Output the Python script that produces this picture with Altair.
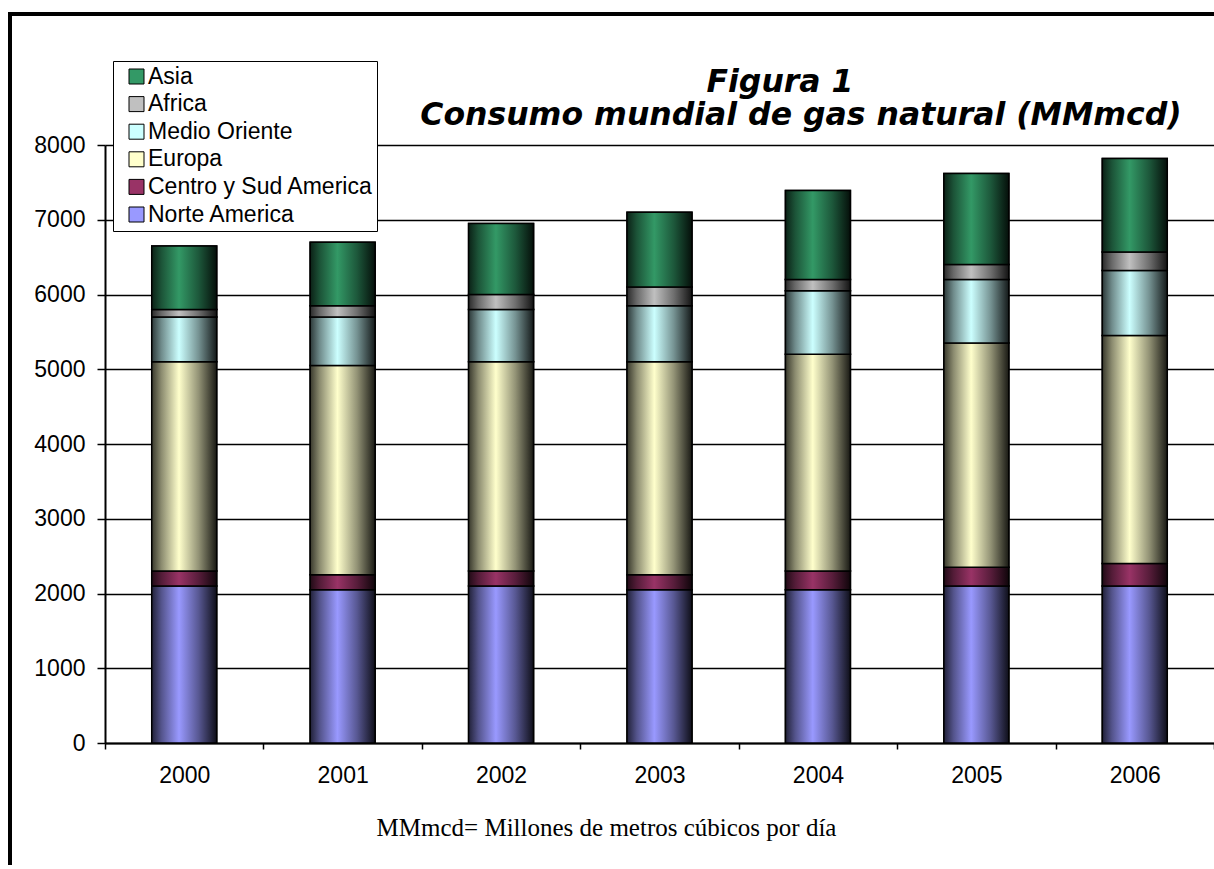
import altair as alt
import pandas as pd

# World natural gas consumption by region (MMmcd)
YEARS = ["2000", "2001", "2002", "2003", "2004", "2005", "2006"]
NORTE_AMERICA = [2100, 2050, 2100, 2050, 2050, 2100, 2100]
CENTRO_SUD_AMERICA = [200, 200, 200, 200, 250, 250, 300]
EUROPA = [2800, 2800, 2800, 2850, 2900, 3000, 3050]
MEDIO_ORIENTE = [600, 650, 700, 750, 850, 850, 870]
AFRICA = [100, 150, 200, 250, 150, 200, 250]
ASIA = [850, 850, 950, 1000, 1190, 1220, 1250]

REGIONS = ["Norte America", "Centro y Sud America", "Europa",
           "Medio Oriente", "Africa", "Asia"]
SERIES = [NORTE_AMERICA, CENTRO_SUD_AMERICA, EUROPA, MEDIO_ORIENTE, AFRICA, ASIA]
COLORS = ["#9999FF", "#993366", "#FFFFCC", "#CCFFFF", "#C0C0C0", "#339966"]

TITLE_LINES = ["Figura 1", "Consumo mundial de gas natural (MMmcd)"]
FOOTNOTE = "MMmcd= Millones de metros cúbicos por día"
Y_TICKS = [0, 1000, 2000, 3000, 4000, 5000, 6000, 7000, 8000]

rows = []
for order, (region, values) in enumerate(zip(REGIONS, SERIES)):
    for year, v in zip(YEARS, values):
        rows.append({"year": year, "region": region, "value": v, "order": order})
df = pd.DataFrame(rows)

SANS = "Liberation Sans"
SERIF = "Liberation Serif"
TITLE_FONT = "DejaVu Sans"
W, H = 1109, 598


def shade(hex_color, f):
    r, g, b = (int(hex_color[i:i + 2], 16) for i in (1, 3, 5))
    return "#{:02x}{:02x}{:02x}".format(int(r * f), int(g * f), int(b * f))


def cylinder(hex_color):
    # dark edges, bright band slightly left of centre
    stops = [(0.0, 0.22), (0.15, 0.55), (0.42, 1.0), (0.72, 0.58), (1.0, 0.1)]
    return alt.LinearGradient(
        gradient="linear", x1=0, x2=1, y1=0, y2=0,
        stops=[alt.GradientStop(offset=o, color=shade(hex_color, f)) for o, f in stops],
    )


x_enc = alt.X(
    "year:N", sort=YEARS,
    scale=alt.Scale(paddingInner=0, paddingOuter=0),
    axis=alt.Axis(
        title=FOOTNOTE, titleFont=SERIF, titleFontSize=25, titleFontWeight="normal",
        titleColor="black", titleX=501, titleY=92, titleAlign="center",
        titleBaseline="alphabetic",
        labelAngle=0, labelFont=SANS, labelFontSize=23, labelColor="black",
        labelPadding=15, tickBand="extent", tickSize=6, tickColor="black",
        tickWidth=1.5, domainColor="black", domainWidth=2, grid=False,
    ),
)
y_enc = alt.Y(
    "y0:Q",
    scale=alt.Scale(domain=[0, 8000], nice=False),
    axis=alt.Axis(
        title=None, values=Y_TICKS, format="d", labelFont=SANS, labelFontSize=23,
        labelColor="black", labelPadding=12, tickSize=8, tickColor="black",
        tickWidth=1.5, domainColor="black", domainWidth=2,
        grid=True, gridColor="black", gridWidth=1.5,
    ),
)

base = alt.Chart(df).transform_stack(
    stack="value", groupby=["year"], as_=["y0", "y1"],
    sort=[alt.SortField("order", order="ascending")],
)

bar_width = alt.RelativeBandSize(0.41)

solid = base.mark_bar(width=bar_width, stroke="black", strokeWidth=1.5).encode(
    x=x_enc, y=y_enc, y2="y1:Q",
    color=alt.Color(
        "region:N",
        scale=alt.Scale(domain=REGIONS[::-1], range=COLORS[::-1]),
        legend=alt.Legend(
            orient="none", legendX=8, legendY=-84, title=None,
            labelFont=SANS, labelFontSize=23, labelColor="black", labelLimit=400,
            symbolType="square", symbolSize=225, symbolStrokeColor="black",
            symbolStrokeWidth=1, symbolOffset=8, labelOffset=0,
            strokeColor="black", fillColor="white", padding=4, rowPadding=3.6,
        ),
    ),
)

shaded = [
    base.transform_filter(alt.datum.region == region)
    .mark_bar(width=bar_width, fill=cylinder(color), stroke="black", strokeWidth=1.5)
    .encode(x=x_enc, y=y_enc, y2="y1:Q")
    for region, color in zip(REGIONS, COLORS)
]

one = pd.DataFrame({"k": [0]})
frame_left = alt.Chart(one).mark_rule(color="black", strokeWidth=4).encode(
    x=alt.value(-95), y=alt.value(-133), y2=alt.value(900))
frame_top = alt.Chart(one).mark_rule(color="black", strokeWidth=4).encode(
    x=alt.value(-97), x2=alt.value(W + 10), y=alt.value(-131))

title_style = dict(font=TITLE_FONT, fontSize=31.5, fontWeight="bold", fontStyle="italic",
                   align="center", baseline="alphabetic", color="black")
title1 = alt.Chart(pd.DataFrame({"t": [TITLE_LINES[0]]})).mark_text(**title_style).encode(
    text="t:N", x=alt.value(675), y=alt.value(-53))
title2 = alt.Chart(pd.DataFrame({"t": [TITLE_LINES[1]]})).mark_text(**title_style).encode(
    text="t:N", x=alt.value(696), y=alt.value(-20))

chart = alt.layer(solid, *shaded, frame_left, frame_top, title1, title2).properties(
    width=W, height=H,
    autosize=alt.AutoSizeParams(type="none"),
    padding={"left": 105, "top": 145, "right": 0, "bottom": 122},
    background="white",
).configure_view(strokeWidth=0)

chart.save("out.html", embed_options={"renderer": "svg", "actions": False})
